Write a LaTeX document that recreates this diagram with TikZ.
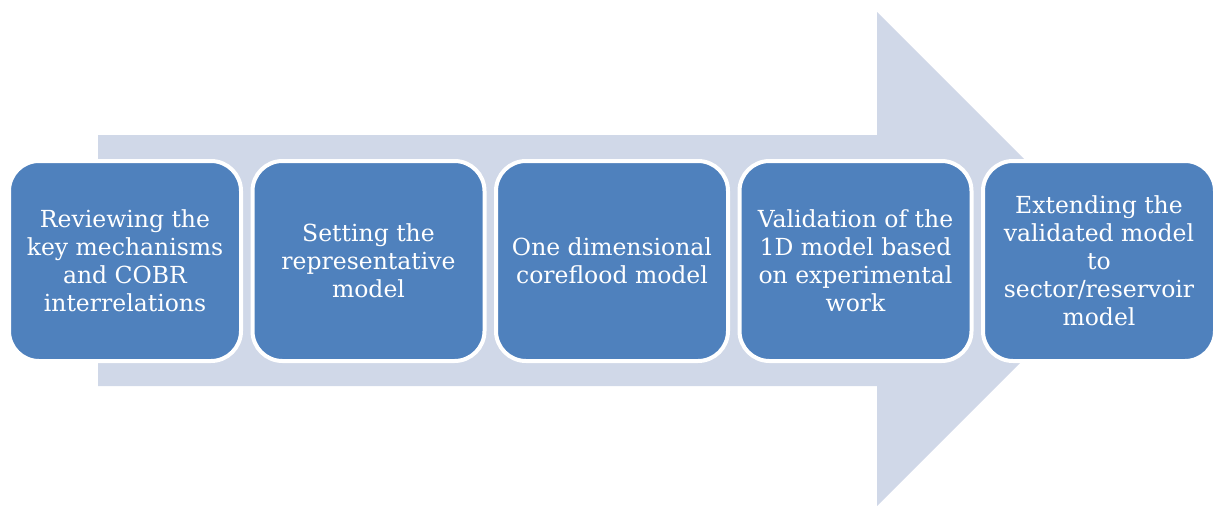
\documentclass[tikz,border=0pt]{standalone}
\usepackage{fontspec}
\setmainfont{DejaVu Serif}
\definecolor{boxblue}{HTML}{4F81BD}
\definecolor{arrowgray}{HTML}{D0D8E8}
\begin{document}
\begin{tikzpicture}[x=1pt,y=-1pt,
  stagebox/.style={draw=white, line width=4pt, fill=boxblue, rounded corners=30pt,
    minimum width=232pt, minimum height=200pt, inner sep=0pt, align=center,
    text=white, font=\fontsize{23.5}{28}\selectfont}]
\useasboundingbox (0,0) rectangle (1213,506);
\fill[arrowgray] (98,135) -- (877,135) -- (877,12) -- (1124,259) -- (877,506) -- (877,386) -- (98,386) -- cycle;
\node[stagebox] (s1) at (125,261) {Reviewing the\\key mechanisms\\and COBR\\interrelations};
\node[stagebox] (s2) at (368.5,261) {Setting the\\representative\\model};
\node[stagebox] (s3) at (612,261) {One dimensional\\coreflood model};
\node[stagebox] (s4) at (855.5,261) {Validation of the\\1D model based\\on experimental\\work};
\node[stagebox] (s5) at (1099,261) {Extending the\\validated model\\to\\sector/reservoir\\model};
\end{tikzpicture}
\end{document}
